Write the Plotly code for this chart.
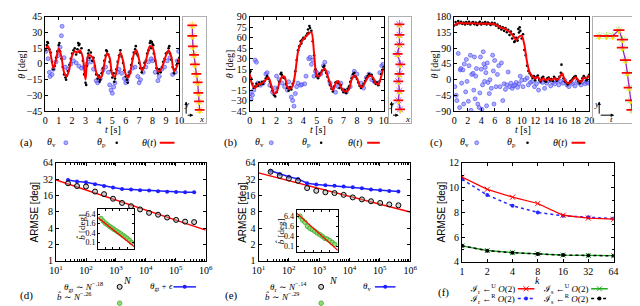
import plotly.graph_objects as go

W, H = 640, 306
SERIF = "Liberation Serif"
SANS = "Liberation Sans"

# ---------------- data: panel (a) ----------------
theta_a = [14, 17, 9, -4, 4, 15, 7, -8, -12, -4, 8, 12, 11, 13, 6, -15, 8, 8, 4, -8,
           -13, -12, 0, 10, 6, -10, -12, 0, 11, 3, -10, -13, -4, 9, 13, 4, -6, -2, 8, 17,
           16, 5, -7, -6, 0, 8, 13, 7, -7, -3, 5]
pa = [13, 18, 20, 14, 11, 2, -5, -2, 6, 12,
      18, 12, 5, -3, -10, -13, -11, -7, -1, 5,
      10, 13, 15, 9, 14, 18, 11, 15, 3, -10,
      -18, -2, 10, 6, 11, 3, 6, -2, -10, -14,
      -11, -15, -9, -4, 3, 8, 12, 9, 2, -6,
      -13, -9, -14, -5, 2, 8, 13, 7, 1, -6,
      -12, -15, -11, -8, -1, 5, 11, 14, 10, 8,
      1, -4, -8, -4, 1, 3, 10, 13, 20, 15,
      19, 10, 3, -4, -9, -5, -8, -3, 2, 5,
      10, 11, 15, 10, 4, -3, -9, -5, -1, 3, 6]
pa_extra_t = [0.15, 1.05, 2.45, 2.55, 3.25, 4.55, 6.75, 7.85, 7.95, 8.05, 9.25, 3.05, 4.05, 6.15, 1.55, 5.15]
pa_extra_v = [21, 20, 20, 19, 13, 13, 17, 22, 21, 18, 17, -20, -17, -18, -15, -17]
va_t = [0.05, 0.2, 0.3, 0.35, 0.5, 0.6, 0.8, 0.95, 1.1, 1.2, 1.25, 1.4, 1.5, 1.7, 1.9, 2.1, 2.3, 2.5, 2.7, 2.9,
        3.1, 3.2, 3.4, 3.6, 3.8, 3.9, 4.1, 4.3, 4.5, 4.7, 4.8, 4.9, 5.0, 5.1, 5.2, 5.4, 5.5, 5.7, 5.9, 6.0,
        6.1, 6.3, 6.5, 6.7, 6.9, 7.0, 7.1, 7.3, 7.5, 7.7, 7.9, 8.0, 8.2, 8.4, 8.5, 8.7, 8.9, 9.1, 9.3, 9.5,
        9.7, 9.85, 9.95]
va_v = [12, 5, -8, -12, -10, -5, 2, 8, 16, 27, 36, 6, -3, -5, 0, 3, 1, -2, -4, -3,
        0, 5, 2, -5, -16, -18, -14, -6, -3, -8, -20, -25, -28, -22, -18, -8, -5, -9, -14, -18,
        -16, -8, -4, -3, -12, -18, -15, -8, -3, 2, 5, 3, -8, -16, -12, -5, -3, 3, 6, -10,
        -8, 3, 12]

# ---------------- data: panel (b) ----------------
theta_b = [8, -8, -12, -7, -6, -4, 0, 3, -8, -20, -18, -5, 4, 4, -10, -13, -9, 10, 40, 52,
           58, 62, 66, 68, 38, 6, 5, 12, 16, 6, -5, -15, -6, -2, -10, -16, -17, -14, 0, 6,
           2, -8, -11, -4, 3, 6, 3, -5, -7, 4, 17]
pb = [10, 2, -6, -12, -10, -6, -9, -4, -7, -3,
      -6, -2, 2, 5, 1, -3, -10, -16, -22, -24,
      -18, -12, -3, 8, 7, 3, 2, -6, -12, -16,
      -11, -14, -6, -2, 12, 28, 42, 48, 55, 57,
      60, 59, 63, 66, 67, 74, 70, 55, 35, 15,
      5, 2, 8, 10, 13, 18, 14, 10, 4, -2,
      -8, -13, -17, -10, -4, -3, -5, -12, -8, -14,
      -18, -15, -19, -13, -10, -3, 2, 8, 10, 4,
      1, -4, -9, -12, -9, -6, -2, 2, 5, 8,
      6, 7, 1, -3, -6, -4, -8, -2, 8, 14, 18]
pb_extra_t = [4.45, 4.35, 0.05, 3.85, 2.35, 5.55]
pb_extra_v = [77, 72, 12, 52, 10, 20]
vb_t = [0.05, 0.1, 0.2, 0.3, 0.4, 0.5, 0.6, 0.8, 1.0, 1.2, 1.3, 1.5, 1.7, 1.9, 2.0, 2.2, 2.4, 2.6, 2.8, 2.9,
        3.0, 3.1, 3.2, 3.3, 3.4, 3.5, 3.6, 3.8, 3.9, 4.1, 4.2, 4.4, 4.5, 4.6, 4.7, 4.8, 4.9, 5.0, 5.1, 5.3,
        5.5, 5.6, 5.8, 6.0, 6.2, 6.4, 6.6, 6.8, 7.0, 7.2, 7.5, 7.7, 7.8, 8.0, 8.3, 8.5, 8.7, 8.9, 9.1, 9.3,
        9.5, 9.7, 9.85, 9.95]
vb_v = [-20, -28, -22, -15, 28, 25, -5, -8, -5, 8, 10, -8, -18, -12, 5, 0, -5, -10, -15, -3,
        -12, -25, -30, -38, -20, -10, -5, -8, -7, -6, 5, 30, 32, 22, 28, 5, 12, 10, 5, 8,
        20, 25, 10, -5, -12, -18, -10, -5, -15, -18, -10, 5, 12, 8, -5, -12, 3, 8, 0, -3,
        -5, 10, 20, 22]

# ---------------- data: panel (c) ----------------
theta_c = [157, 160, 163, 162, 161, 162, 161, 162, 161, 160, 161, 160, 161, 160, 160, 159, 155, 150, 148, 145,
           140, 134, 124, 114, 123, 126, 100, 50, 20, 9, 3, 8, -3, 4, -2, 3, -1, 4, 0, 5,
           18, -2, -10, -8, 0, 7, -2, -7, 6, 3, 12]
pc = [155, 165, 158, 168, 162, 166, 160, 164, 158, 165,
      160, 166, 158, 163, 165, 159, 164, 157, 162, 166,
      158, 163, 160, 165, 158, 164, 161, 157, 163, 159,
      162, 155, 158, 148, 153, 144, 150, 140, 148, 136,
      143, 128, 138, 118, 130, 110, 120, 112, 135, 140,
      118, 130, 85, 70, 40, 25, 18, 12, 5, 10,
      -2, 8, 12, 0, -5, 5, 8, -3, -6, 4,
      6, -2, 2, -4, 8, 3, -3, 2, 8, 20,
      15, 4, -5, -8, -14, -10, -5, -2, 4, 8,
      10, 2, -4, -10, -5, 4, 10, 5, -2, 8, 14]
pc_extra_t = [15.9, 9.7, 9.5, 8.9]
pc_extra_v = [43, 150, 145, 108]
vc_t = [0.1, 0.3, 0.4, 0.6, 0.8, 0.9, 1.0, 1.1, 1.3, 1.4, 1.5, 1.7, 1.8, 1.9, 2.1, 2.2, 2.4, 2.5, 2.6, 2.8,
        2.9, 3.0, 3.1, 3.2, 3.3, 3.5, 3.7, 3.8, 3.9, 4.0, 4.1, 4.2, 4.3, 4.4, 4.5, 4.6, 4.7, 4.8, 4.9, 5.0,
        5.2, 5.3, 5.5, 5.7, 5.8, 5.9, 6.0, 6.2, 6.4, 6.6, 6.8, 7.0, 7.2, 7.4, 7.6, 7.8, 8.0, 8.2, 8.4, 8.6,
        8.8, 9.0, 9.2, 9.4, 9.6, 9.8, 10.0, 10.2, 10.5, 10.8, 11.0, 11.3, 11.6, 11.9, 12.2, 12.5, 12.8, 13.1, 13.4, 13.7,
        14.0, 14.3, 14.6, 14.9, 15.2, 15.5, 15.8, 16.1, 16.4, 16.7, 17.0, 17.3, 17.6, 17.9, 18.2, 18.5, 18.8, 19.1, 19.4, 19.7,
        19.9]
vc_v = [-20, -45, -60, 75, -80, 28, 32, -10, 28, -70, 45, -35, 58, -5, -62, 40, 70, -88, 15, 18,
        -30, 65, -55, 10, 32, -70, -80, -38, 65, 30, -85, -15, 80, 45, -5, 35, 20, -75, 48, -8,
        -40, 0, -25, 70, 25, -70, 55, -20, 15, 40, -20, 48, -60, -12, -28, -15, 22, -20, -10, -25,
        -18, -15, -8, -22, -12, 10, -2, -20, 0, 5, -15, -8, -5, -20, -12, -30, -5, -8, -25, -10,
        -3, -18, -8, -12, -4, -15, -5, -10, -2, -15, -20, -8, -12, -18, -5, -10, -15, -6, -12, -8,
        -10]

# ---------------- side insets: trajectories ----------------
traj_a_x = [0.40, 0.40, 0.43, 0.48, 0.52, 0.58, 0.64, 0.67, 0.70, 0.73]
traj_a_y = [0.92, 0.82, 0.72, 0.64, 0.55, 0.46, 0.38, 0.28, 0.20, 0.12]
traj_b_x = [0.48, 0.48, 0.48, 0.40, 0.52, 0.48, 0.43, 0.48, 0.43, 0.51]
traj_b_y = [0.93, 0.83, 0.74, 0.65, 0.55, 0.46, 0.39, 0.30, 0.21, 0.125]
traj_c_x = [0.13, 0.285, 0.42, 0.55, 0.625, 0.625, 0.69, 0.73, 0.77, 0.80, 0.83]
traj_c_y = [0.82, 0.82, 0.82, 0.875, 0.785, 0.71, 0.59, 0.47, 0.33, 0.21, 0.12]

# ---------------- panels (d), (e) ----------------
N = [25, 50, 100, 200, 400, 800, 1600, 3200, 6400, 12800, 25600, 51200, 102400, 204800, 409600]
fit_N = [10, 1000000]
d_black = [27, 24, 23.5, 19, 17, 14, 11.7, 10.2, 8.9, 7.7, 7.1, 6.3, 5.7, 5.3, 5.2]
d_blue = [31, 29, 28.3, 26, 24, 22.5, 21.2, 20.7, 20.1, 19.8, 19.3, 18.8, 18.6, 18.4, 18.4]
d_fit = [31, 3.7]
d_green = [3.4, 2.3, 1.7, 1.35, 1.05, 0.85, 0.68, 0.55, 0.45, 0.36, 0.29, 0.23, 0.18, 0.14, 0.1]
d_gfit = [3.8, 0.054]
e_black = [44, 37, 33, 30, 22, 19.6, 18.4, 17.8, 16.5, 14.8, 13.6, 12.6, 11.7, 11, 10.6]
e_blue = [46, 40, 35.5, 32.5, 27, 25.5, 24.8, 24.2, 23.5, 22.8, 21.8, 20.8, 20, 19.4, 19]
e_fit = [42, 8]
e_green = [6.5, 3.8, 2.8, 1.6, 1.2, 1.0, 0.8, 0.62, 0.5, 0.4, 0.3, 0.27, 0.22, 0.17, 0.13]
e_gfit = [10, 0.056]
log2_ticks = [1, 2, 4, 8, 16, 32, 64]
inset_ticks = [0.1, 0.4, 1.6, 6.4]

# ---------------- panel (f) ----------------
k_vals = [1, 2, 4, 8, 16, 32, 64]
f_rU = [10.85, 9.87, 9.23, 8.72, 7.77, 7.54, 7.45]
f_rR = [10.68, 9.4, 8.53, 8.0, 7.72, 7.6, 7.5]
f_sU = [5.3, 4.92, 4.75, 4.65, 4.55, 4.52, 4.5]
f_sR = [5.3, 4.9, 4.74, 4.64, 4.55, 4.52, 4.49]

# =============== figure ===============
fig = go.Figure()
lay = dict(width=W, height=H, margin=dict(l=0, r=0, t=0, b=0), paper_bgcolor="white",
           plot_bgcolor="rgba(0,0,0,0)", showlegend=False)
anns = []


def names(n):
    if n == 1:
        return "xaxis", "yaxis", "x", "y"
    return f"xaxis{n}", f"yaxis{n}", f"x{n}", f"y{n}"


def base_axis(**kw):
    d = dict(showline=True, linecolor="black", linewidth=1, mirror="ticks", ticks="inside",
             ticklen=3, tickwidth=1, tickcolor="black", showgrid=False, zeroline=False,
             tickfont=dict(family=SERIF, size=10, color="black"))
    d.update(kw)
    return d


def make_axes(n, box, xkw, ykw):
    x0, x1, y0, y1 = box
    xa, ya, xr, yr = names(n)
    lay[xa] = base_axis(domain=[x0 / W, x1 / W], anchor=yr, **xkw)
    lay[ya] = base_axis(domain=[1 - y1 / H, 1 - y0 / H], anchor=xr, **ykw)


def add(n, **kw):
    _, _, xr, yr = names(n)
    fig.add_trace(go.Scatter(xaxis=xr, yaxis=yr, hoverinfo="skip", **kw))


def txt(x, y, s, size=10, family=SERIF, angle=0, xanchor="center"):
    anns.append(dict(x=x / W, y=1 - y / H, xref="paper", yref="paper", text=s, showarrow=False,
                     font=dict(family=family, size=size, color="black"), textangle=angle,
                     xanchor=xanchor, yanchor="middle"))


BLUE_V = dict(size=4, color="rgba(120,120,255,0.6)", line=dict(color="rgba(70,70,240,0.85)", width=0.7))
BLACK_P = dict(size=2.6, color="black")
RED = "rgb(255,0,0)"

# ---- top panels ----
top = [
    (1, (31, 168, 3, 101), [0, 10], 1, [-45, 45], 15, theta_a, 0.2, pa, 0.1, pa_extra_t, pa_extra_v, va_t, va_v),
    (2, (240, 377, 3, 101), [0, 10], 1, [-45, 90], 15, theta_b, 0.2, pb, 0.1, pb_extra_t, pb_extra_v, vb_t, vb_v),
    (3, (449, 587, 3, 101), [0, 20], 2, [-90, 180], 45, theta_c, 0.4, pc, 0.2, pc_extra_t, pc_extra_v, vc_t, vc_v),
]
for (n, box, xr_, xd, yr_, yd, th, th_dt, pp, pp_dt, ex_t, ex_v, bt, bv) in top:
    make_axes(n, box, dict(range=xr_, dtick=xd, tick0=0), dict(range=yr_, dtick=yd, tick0=0))
    add(n, x=bt, y=bv, mode="markers", marker=BLUE_V)
    add(n, x=[round(i * pp_dt, 3) for i in range(len(pp))] + ex_t, y=pp + ex_v,
        mode="markers", marker=BLACK_P)
    add(n, x=[round(i * th_dt, 3) for i in range(len(th))], y=th, mode="lines",
        line=dict(color=RED, width=2, shape="spline", smoothing=0.8))

# ---- side trajectory insets ----
side = [
    (4, (172, 195, 3, 113), traj_a_x, traj_a_y, 7),
    (5, (382, 405, 3, 113), traj_b_x, traj_b_y, 7),
    (6, (591, 639, 3, 113), traj_c_x, traj_c_y, 8),
]
for (n, box, tx, ty, bar) in side:
    make_axes(n, box,
              dict(range=[0, 1], ticks="", showticklabels=False, linecolor="rgb(175,175,175)", mirror=True),
              dict(range=[0, 1], ticks="", showticklabels=False, linecolor="rgb(175,175,175)", mirror=True))
    add(n, x=tx, y=ty, mode="markers",
        marker=dict(symbol="asterisk-open", size=7, line=dict(color="rgba(160,160,160,0.55)", width=1)))
    add(n, x=tx, y=ty, mode="lines", line=dict(color="rgb(150,40,190)", width=1.3))
    add(n, x=tx, y=ty, mode="markers",
        marker=dict(symbol="line-ew", size=bar, line=dict(color=RED, width=1.8)))
    add(n, x=tx, y=[v - 0.022 for v in ty], mode="markers",
        marker=dict(size=2.8, color="rgb(245,225,0)"))

# axis arrows drawn in the side insets (axis units)
for n in (4, 5, 6):
    _, _, xr, yr = names(n)
    for (tx_, ty_) in [(0.13, 0.2), (0.45, 0.07)]:
        anns.append(dict(x=tx_, y=ty_, xref=xr, yref=yr, ax=0.13, ay=0.07, axref=xr, ayref=yr,
                         text="", showarrow=True, arrowhead=2, arrowsize=0.7, arrowwidth=1,
                         arrowcolor="black"))

# ---- (d), (e) main ----
log_minor = [m * 10 ** e for e in range(1, 6) for m in range(2, 10)]
for (n, box, blk, blu, fit) in [(7, (42, 195, 155, 257), d_black, d_blue, d_fit),
                                 (8, (249, 404, 155, 257), e_black, e_blue, e_fit)]:
    make_axes(n, box,
              dict(type="log", range=[1, 6], tickmode="array", tickvals=[10 ** e for e in range(1, 7)],
                   ticktext=[f"10<sup>{e}</sup>" for e in range(1, 7)],
                   minor=dict(tickvals=log_minor, ticks="inside", ticklen=2, tickcolor="black")),
              dict(type="log", range=[0, 1.80618], tickmode="array", tickvals=log2_ticks,
                   ticktext=[str(v) for v in log2_ticks]))
    add(n, x=fit_N, y=fit, mode="lines", line=dict(color=RED, width=1.5))
    add(n, x=N, y=blu, mode="lines+markers", line=dict(color="rgb(30,30,255)", width=1.5),
        marker=dict(size=4, color="rgb(30,30,255)"))
    add(n, x=N, y=blk, mode="markers",
        marker=dict(size=5, color="rgba(170,170,170,0.5)", line=dict(color="black", width=1)))

GREEN_M = dict(size=4.5, color="rgba(130,215,100,0.85)", line=dict(color="rgb(60,170,40)", width=0.8))
for (n, box, grn, gfit, yr_) in [(10, (85, 122, 203, 245), d_green, d_gfit, [-1.44, 1.13]),
                                  (11, (288, 330, 204, 248), e_green, e_gfit, [-1.37, 1.19])]:
    make_axes(n, box,
              dict(type="log", range=[1, 6], tickmode="array", tickvals=[10 ** e for e in range(1, 7)],
                   showticklabels=False, ticklen=2),
              dict(type="log", range=yr_, tickmode="array", tickvals=inset_ticks,
                   ticktext=[str(v) for v in inset_ticks], ticklen=2,
                   tickfont=dict(family=SERIF, size=8, color="black")))
    add(n, x=N, y=grn, mode="markers", marker=GREEN_M)
    add(n, x=fit_N, y=gfit, mode="lines", line=dict(color=RED, width=1.3))

# ---- (f) ----
make_axes(9, (457, 612, 155, 258),
          dict(type="log", range=[0, 1.80618], tickmode="array", tickvals=k_vals,
               ticktext=[str(v) for v in k_vals]),
          dict(range=[4, 12], dtick=2, tick0=4,
               minor=dict(dtick=1, ticks="inside", ticklen=2, tickcolor="black")))
add(9, x=k_vals, y=f_sU, mode="lines+markers", line=dict(color="rgb(30,170,30)", width=1.3),
    marker=dict(symbol="x-thin", size=5, line=dict(color="rgb(30,170,30)", width=1)))
add(9, x=k_vals, y=f_sR, mode="lines+markers", line=dict(color="black", width=1.5, dash="dot"),
    marker=dict(size=4, color="black"))
add(9, x=k_vals, y=f_rR, mode="lines+markers", line=dict(color="rgb(40,40,255)", width=1.5, dash="dot"),
    marker=dict(size=4, color="rgb(40,40,255)"))
add(9, x=k_vals, y=f_rU, mode="lines+markers", line=dict(color=RED, width=1.3),
    marker=dict(symbol="x-thin", size=5, line=dict(color=RED, width=1)))

# ---- pixel overlay for legend samples ----
lay["xaxis12"] = dict(domain=[0, 1], range=[0, W], visible=False, anchor="y12")
lay["yaxis12"] = dict(domain=[0, 1], range=[H, 0], visible=False, anchor="x12")


def leg_line(x0, x1, y, color, dash="solid", width=1.5):
    add(12, x=[x0, x1], y=[y, y], mode="lines", line=dict(color=color, width=width, dash=dash), cliponaxis=False)


def leg_mark(x, y, marker):
    add(12, x=[x], y=[y], mode="markers", marker=marker, cliponaxis=False)


# top legends
for (lab, xs) in [("(a)", (12, 37, 52, 88, 104, 137, 148, 163)),
                  ("(b)", (220, 250, 262, 298, 313, 348, 360, 373)),
                  ("(c)", (431, 460, 472, 508, 524, 557, 569, 583))]:
    y = 134
    txt(xs[0], y, lab, size=11)
    txt(xs[1], y, "<i>θ</i><sub>v</sub>")
    leg_mark(xs[2], y, BLUE_V)
    txt(xs[3], y, "<i>θ</i><sub>p</sub>")
    leg_mark(xs[4], y, BLACK_P)
    txt(xs[5], y, "<i>θ</i>(<i>t</i>)")
    leg_line(xs[6], xs[7], y, RED, width=2)

# axis titles, top
for (xl, xt) in [(7, 100), (220, 310), (429, 519)]:
    txt(xl, 52, "<i>θ</i> [deg]", angle=-90)
    txt(xt, 120, "<i>t</i> [s]")

# inset axis letters
for (cx, cy, tl) in [(175, 110, "x"), (385, 110, "x"), (594, 110, "t")]:
    txt(cx, cy - 16, "<i>y</i>", size=9)
    txt(cx + 16, cy - 1, f"<i>{tl}</i>", size=9)

# bottom axis titles
for (xl, xt, tt) in [(20, 115, "<i>N</i>"), (233, 326, "<i>N</i>"), (436, 534, "<i>k</i>")]:
    txt(xl, 206, "ARMSE [deg]", family=SANS, angle=-90)
    txt(xt, 277, tt)
txt(68, 222, "<i>b̂</i> [deg]", size=9, angle=-90)
txt(271, 226, "<i>b̂</i> [deg]", size=9, angle=-90)

# bottom legends (d), (e)
for (lab, xl, t1, t1x, t2, t2x, mx, t3, t3x, l0, l1) in [
        ("(d)", 12, "<i>θ</i><sub>gt</sub> ∼ <i>N</i><sup>−.18</sup>", 70,
         "<i>b̂</i> ∼ <i>N</i><sup>−.26</sup>", 60, 107, "<i>θ</i><sub>gt</sub> + <i>ϵ</i>", 150, 162, 185),
        ("(e)", 221, "<i>θ</i><sub>r</sub> ∼ <i>N</i><sup>−.14</sup>", 280,
         "<i>b̂</i> ∼ <i>N</i><sup>−.29</sup>", 273, 313, "<i>θ</i><sub>v</sub>", 360, 368, 389)]:
    txt(xl, 293, lab, size=11)
    txt(t1x, 284, t1, size=9)
    leg_mark(mx, 284, dict(size=5, color="rgba(170,170,170,0.5)", line=dict(color="black", width=1)))
    txt(t2x, 294, t2, size=9)
    leg_mark(mx, 301, GREEN_M)
    txt(t3x, 284, t3, size=9)
    leg_line(l0, l1, 284, "rgb(30,30,255)")
    leg_mark((l0 + l1) / 2, 284, dict(size=4, color="rgb(30,30,255)"))

# (f) legend
txt(438, 290, "(f)", size=11)
f_leg = [
    (488, 286, "ℐ<sub>r</sub> ←<sup>U</sup> <i>O</i>(2)", 514, 531, RED, "solid",
     dict(symbol="x-thin", size=5, line=dict(color=RED, width=1))),
    (563, 286, "ℐ<sub>s</sub> ←<sup>U</sup> <i>O</i>(2)", 589, 606, "rgb(30,170,30)", "solid",
     dict(symbol="x-thin", size=5, line=dict(color="rgb(30,170,30)", width=1))),
    (488, 296, "ℐ<sub>r</sub> ←<sup>R</sup> <i>O</i>(2)", 514, 531, "rgb(40,40,255)", "dot",
     dict(size=4, color="rgb(40,40,255)")),
    (563, 296, "ℐ<sub>s</sub> ←<sup>R</sup> <i>O</i>(2)", 589, 606, "black", "dot",
     dict(size=4, color="black")),
]
for (tx, ty, s, l0, l1, col, dash, mk) in f_leg:
    txt(tx, ty, s, size=9)
    leg_line(l0, l1, ty, col, dash=dash)
    leg_mark((l0 + l1) / 2, ty, mk)

lay["annotations"] = anns
fig.update_layout(**lay)
fig.write_html("out.html")
